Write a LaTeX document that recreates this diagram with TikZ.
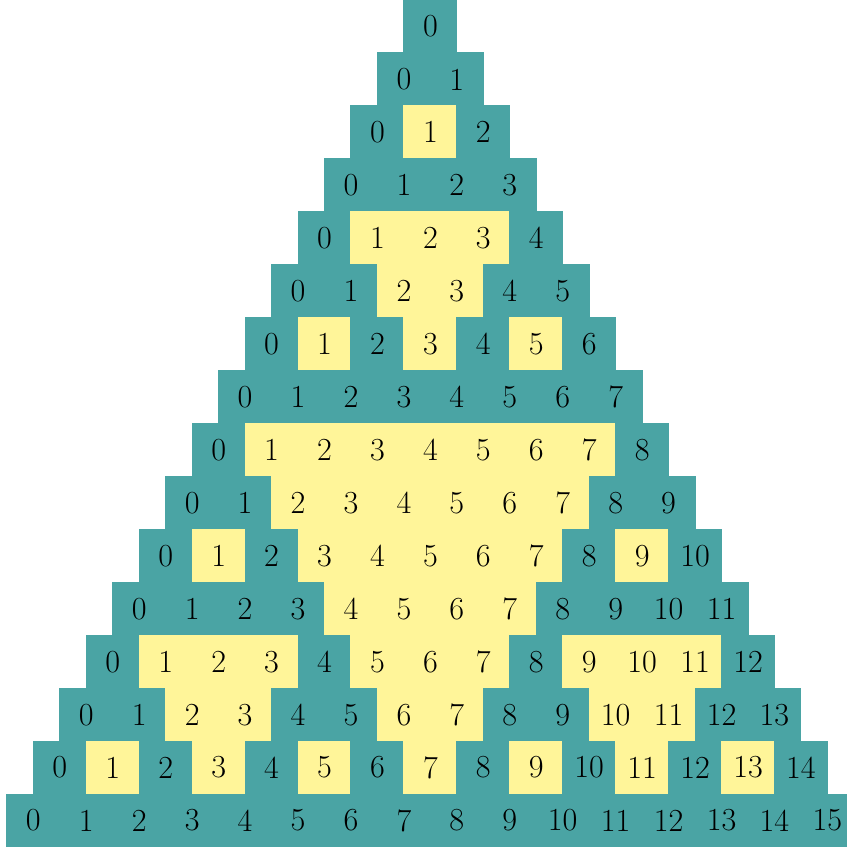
\documentclass[tikz,border=0pt]{standalone}
\definecolor{tealc}{RGB}{74,164,164}
\definecolor{yellowc}{RGB}{255,245,153}
\begin{document}
\begin{tikzpicture}[font=\LARGE,
			cell/.style={rectangle, inner sep=0pt, minimum width=1.02cm, minimum height=1.02cm},
			oddc/.style={cell, fill=tealc},
			evenc/.style={cell, fill=yellowc}]
			\useasboundingbox (-8.13,-15.5) rectangle (7.87,0.5);
			\clip (-8.13,-15.5) rectangle (7.87,0.5);
			\foreach \n in {0,...,15}{
				\foreach \k in {0,...,\n}{
					% чётный биномиальный коэффициент — жёлтая клетка (Лукас)
					\pgfmathtruncatemacro\ev{(mod(floor(\k/1),2)>mod(floor(\n/1),2)) || (mod(floor(\k/2),2)>mod(floor(\n/2),2)) || (mod(floor(\k/4),2)>mod(floor(\n/4),2)) || (mod(floor(\k/8),2)>mod(floor(\n/8),2))}
					\ifnum\ev=1
						\node[evenc] (c\n-\k) at ({\k-\n/2},-\n) {\k};
					\else
						\node[oddc] (c\n-\k) at ({\k-\n/2},-\n) {\k};
					\fi
				}
			}
		\end{tikzpicture}
\end{document}
